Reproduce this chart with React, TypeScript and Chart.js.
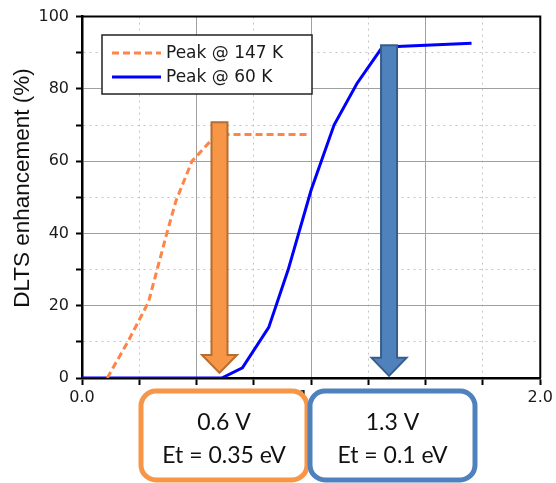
import React, { useEffect, useRef } from 'react';
import { Chart, registerables } from 'chart.js';

Chart.register(...registerables);

// ---- data ----
const seriesLabels = ['Peak @ 147 K', 'Peak @ 60 K'];
const peak147X = [0.11, 0.2, 0.29, 0.37, 0.41, 0.48, 0.56, 0.62, 0.8, 0.98];
const peak147Y = [0, 10, 21, 40, 49, 60, 65.5, 67.4, 67.4, 67.4];
const peak60X = [0, 0.2, 0.4, 0.61, 0.7, 0.815, 0.9, 1.0, 1.1, 1.2, 1.31, 1.4, 1.55, 1.7];
const peak60Y = [0, 0, 0, 0, 2.8, 14, 30, 52, 70, 81.5, 91.5, 91.8, 92.2, 92.6];
const xMajorStep = 0.5;
const yMajorStep = 20;
const yTitle = 'DLTS enhancement (%)';
// arrows: voltage, top value, tip value
const arrowX = [0.6, 1.34];
const arrowTop = [70.8, 92.1];
const arrowTip = [1.4, 0.6];
const boxTexts = [
  ['0.6 V', 'Et = 0.35 eV'],
  ['1.3 V', 'Et = 0.1 eV'],
];

const ORANGE_LINE = '#FF8445';
const BLUE_LINE = '#0000FF';
const ORANGE_FILL = '#F79646';
const ORANGE_STROKE = '#B66D31';
const BLUE_FILL = '#4F81BD';
const BLUE_STROKE = '#385D8A';
const TICK_FONT = { family: 'DejaVu Sans', size: 16 };

function isMultiple(v: number, step: number) {
  const r = Math.abs(v / step - Math.round(v / step));
  return r < 1e-6;
}

function drawArrow(ctx: CanvasRenderingContext2D, cx: number, top: number, tip: number,
  shaftW: number, headW: number, headH: number, fill: string, stroke: string) {
  ctx.save();
  ctx.beginPath();
  ctx.moveTo(cx - shaftW / 2, top);
  ctx.lineTo(cx + shaftW / 2, top);
  ctx.lineTo(cx + shaftW / 2, tip - headH);
  ctx.lineTo(cx + headW / 2, tip - headH);
  ctx.lineTo(cx, tip);
  ctx.lineTo(cx - headW / 2, tip - headH);
  ctx.lineTo(cx - shaftW / 2, tip - headH);
  ctx.closePath();
  ctx.fillStyle = fill;
  ctx.fill();
  ctx.lineWidth = 2;
  ctx.lineJoin = 'miter';
  ctx.strokeStyle = stroke;
  ctx.stroke();
  ctx.restore();
}

const overlayPlugin = {
  id: 'overlay',
  afterDatasetsDraw(chart: any) {
    const ctx: CanvasRenderingContext2D = chart.ctx;
    const xs = chart.scales.x;
    const ys = chart.scales.y;
    // arrows
    const fills = [ORANGE_FILL, BLUE_FILL];
    const strokes = [ORANGE_STROKE, BLUE_STROKE];
    for (let i = 0; i < arrowX.length; i++) {
      drawArrow(ctx, xs.getPixelForValue(arrowX[i]), ys.getPixelForValue(arrowTop[i]),
        ys.getPixelForValue(arrowTip[i]), 16, 35, 18, fills[i], strokes[i]);
    }
    // legend
    ctx.save();
    const lx = 102, ly = 35, lw = 210, lh = 59;
    ctx.fillStyle = '#ffffff';
    ctx.fillRect(lx, ly, lw, lh);
    ctx.lineWidth = 1.5;
    ctx.strokeStyle = '#222';
    ctx.strokeRect(lx, ly, lw, lh);
    const rows = [53, 77];
    const colors = [ORANGE_LINE, BLUE_LINE];
    const dashes = [[7, 4], []];
    for (let i = 0; i < 2; i++) {
      ctx.beginPath();
      ctx.setLineDash(dashes[i]);
      ctx.lineWidth = 3;
      ctx.strokeStyle = colors[i];
      ctx.moveTo(112, rows[i]);
      ctx.lineTo(161, rows[i]);
      ctx.stroke();
      ctx.setLineDash([]);
      ctx.fillStyle = '#1a1a1a';
      ctx.font = '17px "DejaVu Sans"';
      ctx.textAlign = 'left';
      ctx.textBaseline = 'middle';
      ctx.fillText(seriesLabels[i], 166, rows[i] + 1);
    }
    ctx.restore();
  },
  afterDraw(chart: any) {
    const ctx: CanvasRenderingContext2D = chart.ctx;
    const a = chart.chartArea;
    ctx.save();
    // top and right frame
    ctx.strokeStyle = '#000';
    ctx.lineWidth = 2;
    ctx.beginPath();
    ctx.moveTo(a.left, a.top);
    ctx.lineTo(a.right, a.top);
    ctx.lineTo(a.right, a.bottom);
    ctx.stroke();
    // y title
    ctx.fillStyle = '#111';
    ctx.font = '22.5px "Liberation Sans"';
    ctx.textAlign = 'center';
    ctx.textBaseline = 'middle';
    ctx.translate(23, 188);
    ctx.rotate(-Math.PI / 2);
    ctx.fillText(yTitle, 0, 0);
    ctx.restore();

    // boxes
    const boxes = [
      { x: 141, w: 166, color: ORANGE_FILL },
      { x: 310, w: 165, color: BLUE_FILL },
    ];
    ctx.save();
    for (let i = 0; i < boxes.length; i++) {
      const b = boxes[i];
      ctx.beginPath();
      (ctx as any).roundRect(b.x, 391, b.w, 89, 15);
      ctx.fillStyle = '#ffffff';
      ctx.fill();
      ctx.lineWidth = 5;
      ctx.strokeStyle = b.color;
      ctx.stroke();
      ctx.fillStyle = '#111';
      ctx.font = '23px Lato';
      ctx.textAlign = 'center';
      ctx.textBaseline = 'alphabetic';
      const cx = b.x + b.w / 2;
      ctx.fillText(boxTexts[i][0], cx, 430);
      ctx.fillText(boxTexts[i][1], cx, 463);
    }
    ctx.restore();
  },
};

export default function App() {
  const ref = useRef<HTMLCanvasElement | null>(null);
  useEffect(() => {
    if (!ref.current) return;
    const gridColor = (c: any) => {
      const v = c.tick ? c.tick.value : 0;
      const step = c.scale && c.scale.axis === 'x' ? xMajorStep : yMajorStep;
      return isMultiple(v, step) ? '#a0a0a0' : '#c4c4c4';
    };
    const chart = new Chart(ref.current, {
      type: 'line',
      data: {
        datasets: [
          {
            label: seriesLabels[0],
            data: peak147X.map((x, i) => ({ x, y: peak147Y[i] })),
            borderColor: ORANGE_LINE,
            borderWidth: 3,
            borderDash: [7, 4],
            pointRadius: 0,
            fill: false,
            tension: 0,
          },
          {
            label: seriesLabels[1],
            data: peak60X.map((x, i) => ({ x, y: peak60Y[i] })),
            borderColor: BLUE_LINE,
            borderWidth: 3,
            pointRadius: 0,
            fill: false,
            tension: 0,
          },
        ],
      },
      options: {
        animation: false,
        responsive: false,
        maintainAspectRatio: false,
        layout: { padding: { left: 0, right: 14, top: 16, bottom: 0 } },
        plugins: { legend: { display: false }, tooltip: { enabled: false } },
        scales: {
          x: {
            type: 'linear',
            min: 0,
            max: 2,
            afterFit: (s: any) => { s.height = 105; },
            ticks: {
              stepSize: 0.25,
              autoSkip: false,
              maxRotation: 0,
              padding: 3,
              color: '#1a1a1a',
              font: TICK_FONT,
              callback: (v: any) => (isMultiple(Number(v), xMajorStep) ? Number(v).toFixed(1) : ''),
            },
            grid: {
              color: gridColor,
              lineWidth: 1,
              tickColor: '#000',
              tickLength: 7,
              tickWidth: 2,
            },
            border: {
              display: true,
              color: '#000',
              width: 2.5,
              dash: (c: any) => {
                if (!c.tick) return [];
                return isMultiple(c.tick.value, xMajorStep) ? [] : [2, 4];
              },
            },
          },
          y: {
            type: 'linear',
            min: 0,
            max: 100,
            afterFit: (s: any) => { s.width = 82; },
            ticks: {
              stepSize: 10,
              autoSkip: false,
              padding: 7,
              color: '#1a1a1a',
              font: TICK_FONT,
              callback: (v: any) => (isMultiple(Number(v), yMajorStep) ? String(v) : ''),
            },
            grid: {
              color: gridColor,
              lineWidth: 1,
              tickColor: '#000',
              tickLength: 6,
              tickWidth: 2,
            },
            border: {
              display: true,
              color: '#000',
              width: 2.5,
              dash: (c: any) => {
                if (!c.tick) return [];
                return isMultiple(c.tick.value, yMajorStep) ? [] : [2, 4];
              },
            },
          },
        },
      } as any,
      plugins: [overlayPlugin],
    });
    return () => chart.destroy();
  }, []);
  return (
    <div style={{ position: 'fixed', left: 0, top: 0, width: 556, height: 483, background: '#fff' }}>
      <canvas ref={ref} width={556} height={483} style={{ display: 'block' }} />
    </div>
  );
}
